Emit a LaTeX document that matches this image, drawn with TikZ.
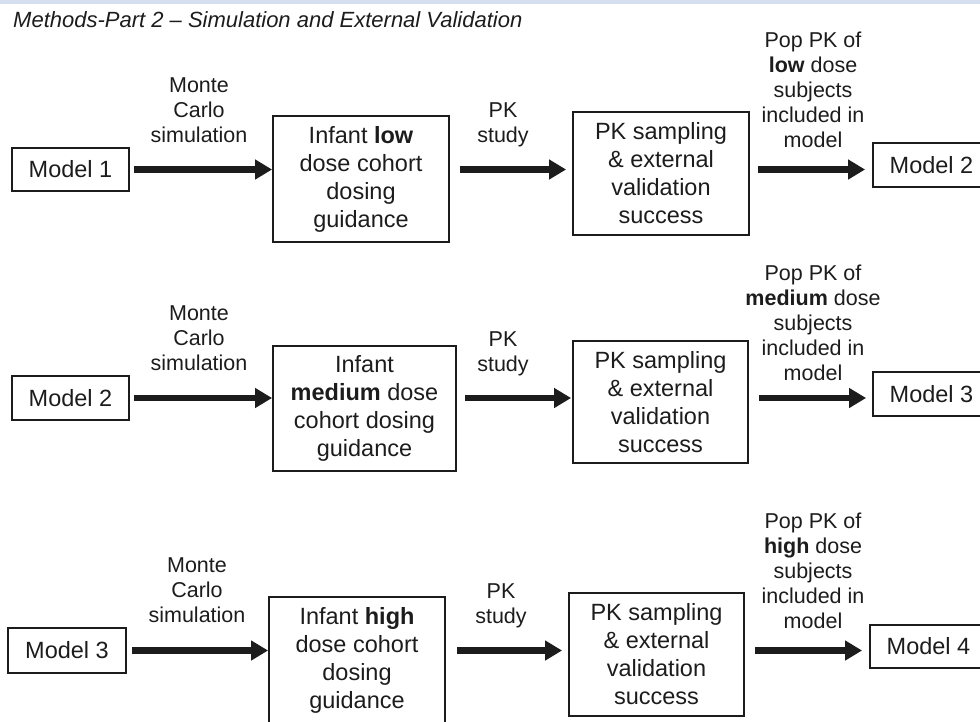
\documentclass[tikz,border=0pt]{standalone}
\usepackage{fontspec}
\setmainfont{Liberation Sans}
\usetikzlibrary{arrows.meta}
\definecolor{ink}{gray}{0.11}
\definecolor{band}{RGB}{214,223,240}
\tikzset{
  box/.style={draw=ink, line width=1.8pt, inner sep=0pt, align=center, text=ink,
    font=\fontsize{23.5}{28}\selectfont},
  note/.style={align=center, text=ink, font=\fontsize{21.5}{25}\selectfont},
  flow/.style={draw=ink, line width=6.5pt, -{Triangle[length=17pt,width=19pt]}},
}
\begin{document}
\begin{tikzpicture}[x=1pt,y=-1pt]

    \useasboundingbox (0,0) rectangle (980,721);
    \clip (0,0) rectangle (980,721);
    \fill[band] (0,0) rectangle (980,4);
    \node[anchor=base west, inner sep=0pt, text=ink, font=\fontsize{22}{26}\selectfont\itshape] (title) at (13,27)
        {Methods-Part 2 \textendash{} Simulation and External Validation};

    % row 1: low dose
    \node[box, minimum width=117pt, minimum height=43pt] (m1) at (70.5,169.5) {Model 1};
    \node[box, minimum width=176pt, minimum height=126pt] (low) at (361,179)
        {Infant \textbf{low}\\dose cohort\\dosing\\guidance};
    \node[box, minimum width=176pt, minimum height=123pt] (pk1) at (661,173.5)
        {PK sampling\\\& external\\validation\\success};
    \node[box, minimum width=117pt, minimum height=44pt] (m2a) at (931.5,165) {Model 2};
    \node[note] (mc1) at (199,110) {Monte\\Carlo\\simulation};
    \node[note] (pks1) at (503,125) {PK\\study};
    \node[note] (pop1) at (813,90) {Pop PK of\\\textbf{low} dose\\subjects\\included in\\model};
    \draw[flow, shorten <=4pt] (m1) -- (m1 -| low.west);
    \draw[flow, shorten <=10pt, shorten >=6pt] (low.east |- m1) -- (pk1.west |- m1);
    \draw[flow, shorten <=8pt, shorten >=7pt] (pk1.east |- m1) -- (m2a.west |- m1);

    % row 2: medium dose
    \node[box, minimum width=117pt, minimum height=44pt] (m2) at (70.5,398) {Model 2};
    \node[box, minimum width=183pt, minimum height=125pt] (med) at (364.5,408.5)
        {Infant\\\textbf{medium} dose\\cohort dosing\\guidance};
    \node[box, minimum width=175pt, minimum height=122pt] (pk2) at (660.5,402)
        {PK sampling\\\& external\\validation\\success};
    \node[box, minimum width=117pt, minimum height=44pt] (m3a) at (931.5,394) {Model 3};
    \node[note] (mc2) at (199,338) {Monte\\Carlo\\simulation};
    \node[note] (pks2) at (503,353.5) {PK\\study};
    \node[note] (pop2) at (813,323) {Pop PK of\\\textbf{medium} dose\\subjects\\included in\\model};
    \draw[flow, shorten <=4pt] (m2) -- (m2 -| med.west);
    \draw[flow, shorten <=8pt, shorten >=1pt] (med.east |- m2) -- (pk2.west |- m2);
    \draw[flow, shorten <=10pt, shorten >=6pt] (pk2.east |- m2) -- (m3a.west |- m2);

    % row 3: high dose
    \node[box, minimum width=118pt, minimum height=45pt] (m3) at (67,650.5) {Model 3};
    \node[box, minimum width=176pt, minimum height=126pt] (high) at (357,660)
        {Infant \textbf{high}\\dose cohort\\dosing\\guidance};
    \node[box, minimum width=175pt, minimum height=123pt] (pk3) at (656.5,654.5)
        {PK sampling\\\& external\\validation\\success};
    \node[box, minimum width=117pt, minimum height=43pt] (m4) at (928.5,646.5) {Model 4};
    \node[note] (mc3) at (197,590) {Monte\\Carlo\\simulation};
    \node[note] (pks3) at (501,605.5) {PK\\study};
    \node[note] (pop3) at (813,571) {Pop PK of\\\textbf{high} dose\\subjects\\included in\\model};
    \draw[flow, shorten <=5pt] (m3) -- (m3 -| high.west);
    \draw[flow, shorten <=11pt, shorten >=6pt] (high.east |- m3) -- (pk3.west |- m3);
    \draw[flow, shorten <=10pt, shorten >=7pt] (pk3.east |- m3) -- (m4.west |- m3);

\end{tikzpicture}
\end{document}
